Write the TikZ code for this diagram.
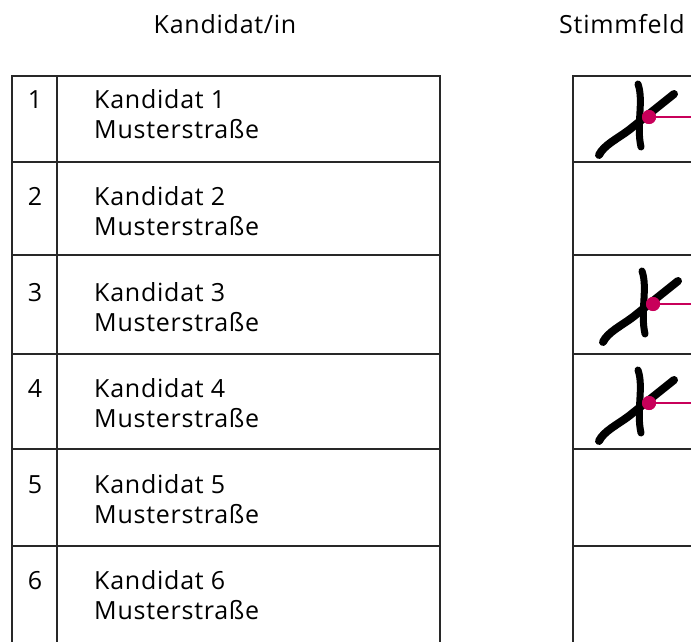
\documentclass[tikz,border=0pt]{standalone}
\usepackage{fontspec}
\setmainfont{Open Sans}[LetterSpace=3.0]
\definecolor{mark}{RGB}{200,0,90}
\definecolor{rule}{RGB}{40,40,40}
\begin{document}
\begin{tikzpicture}[x=1pt,y=-1pt,
  grid/.style={draw=rule,line width=1.4pt},
  lbl/.style={font=\fontsize{25}{30}\selectfont,inner sep=0pt},
  num/.style={lbl,anchor=base},
  pen/.style={line cap=round,line join=round},
  dot/.style={circle,fill=mark,minimum size=14pt,inner sep=0pt},
  lead/.style={draw=mark,line width=1.4pt}]
\useasboundingbox (0,0) rectangle (691,642);
% headers
\node[lbl,anchor=base] (h1) at (225,34) {Kandidat/in};
\node[lbl,anchor=base west] (h2) at (559,34) {Stimmfeld};
% left table
\draw[grid] (12,660) -- (12,76) -- (440,76) -- (440,660);
\draw[grid] (57,76) -- (57,660);
\foreach \y in {162,255,354,449,546} \draw[grid] (12,\y) -- (440,\y);
% right table
\draw[grid] (573,660) -- (573,76) -- (700,76);
\foreach \y in {162,255,354,449,546} \draw[grid] (573,\y) -- (700,\y);
% rows
\foreach \i/\b in {1/109,2/205,3/301,4/397,5/493,6/589}{
  \node[num] (n\i) at (35,\b) {\i};
  \node[lbl,anchor=base west] (k\i) at (94,\b) {Kandidat \i};
  \node[lbl,anchor=base west] (s\i) at (94,\b+30) {Musterstraße};
}
% crosses
\foreach \n/\x/\y in {a/649/117,b/653/304,c/649/403}{
  \begin{scope}[shift={(\x,\y)}]
    \draw[pen,line width=7pt] (-11,-33) .. controls (-5,-16) and (-13,8) .. (-8,30);
    \draw[pen,line width=8pt] (-50,38) .. controls (-45,28) and (-32,22) .. (-20,13) -- (25,-23);
  \end{scope}
  \node[dot] (d\n) at (\x,\y) {};
  \coordinate (e\n) at (700,\y);
  \draw[lead] (d\n) -- (e\n);
  \node[dot] at (\x,\y) {};
}
\end{tikzpicture}
\end{document}
